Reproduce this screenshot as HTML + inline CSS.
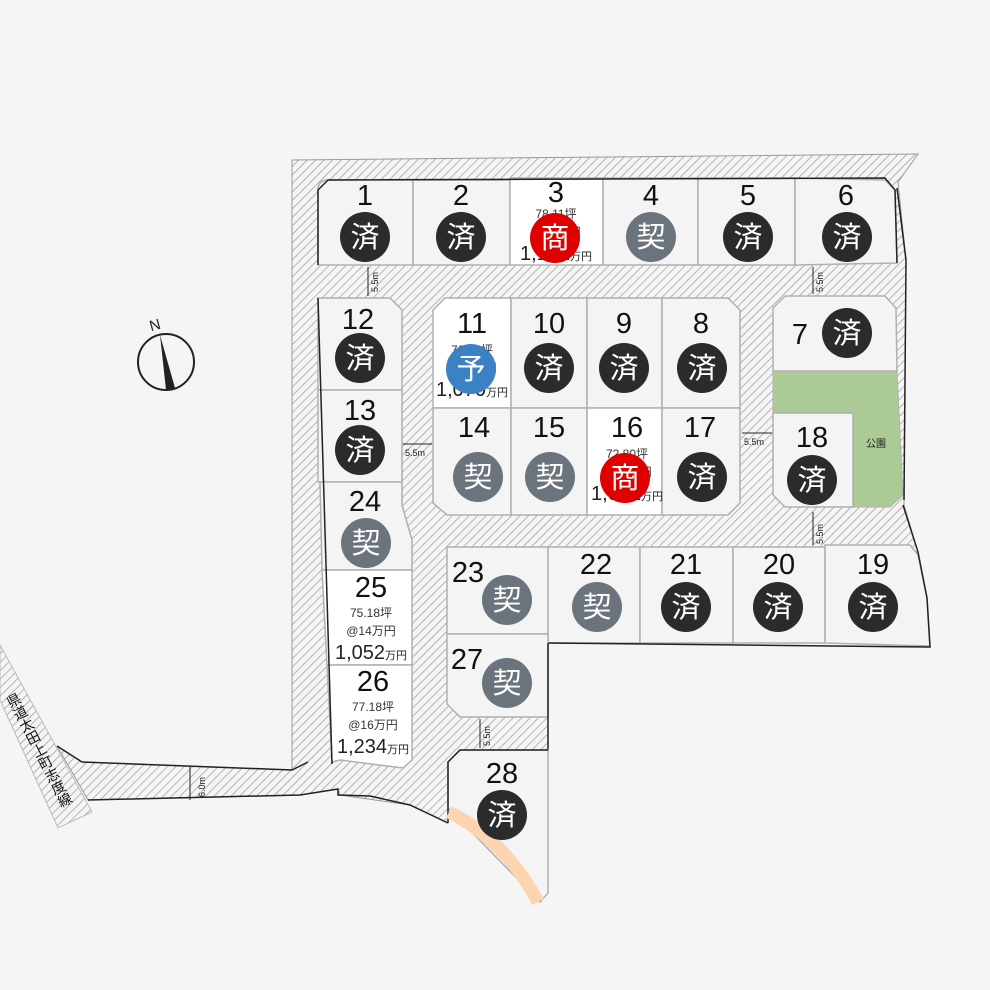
<!DOCTYPE html>
<html><head><meta charset="utf-8"><style>
html,body{margin:0;padding:0;background:#f5f5f5;}
svg{display:block;font-family:"Liberation Sans","Noto Sans CJK JP",sans-serif;}
.n{font-size:29px;fill:#111;text-anchor:middle;}
.s{font-size:12px;fill:#333;text-anchor:middle;}
.b{font-size:20px;fill:#222;text-anchor:middle;}
.m{font-size:29px;fill:#fff;text-anchor:middle;}
.lot{fill:#f4f4f4;stroke:#b0b0b0;stroke-width:1.5;}
.w{fill:#fff;stroke:#b0b0b0;stroke-width:1.5;}
.d{font-size:9px;fill:#222;}
</style></head><body>
<svg width="990" height="990" viewBox="0 0 990 990">
<defs>
<pattern id="h" width="6" height="6" patternUnits="userSpaceOnUse" patternTransform="rotate(45)">
<rect width="6" height="6" fill="#f5f5f5"/><line x1="0" y1="0" x2="0" y2="6" stroke="#999" stroke-width="1.4"/>
</pattern>
</defs>
<!-- state road -->
<polygon points="0,645 92,812 58,828 0,700" fill="url(#h)" stroke="#bbb" stroke-width="1"/>
<text transform="translate(10,708) rotate(63)" font-size="14" fill="#111" rotate="-90 -90 -90 -90 -90 -90 -90 -90 -90" dy="0">県道太田上町志度線</text>
<!-- main hatched -->
<polygon points="292,160 918,154 898,182 906,260 904,505 918,552 548,548 548,750 460,750 448,762 448,823 410,805 340,795 338,789 300,795 88,800 57,746 82,762 292,770" fill="url(#h)" stroke="#999" stroke-width="1"/>
<polyline points="57,746 82,762 292,770 308,762" fill="none" stroke="#222" stroke-width="1.5"/>
<polyline points="88,800 300,795 338,789 338,795 370,796 410,805 448,823" fill="none" stroke="#222" stroke-width="1.5"/>
<!-- top row -->
<path d="M318,190 Q318,180 328,180 L413,180 L413,265 L318,265Z" class="lot"/>
<rect x="413" y="180" width="97" height="85" class="lot"/>
<rect x="510" y="178" width="93" height="87" class="w"/>
<rect x="603" y="178" width="95" height="87" class="lot"/>
<rect x="698" y="178" width="97" height="87" class="lot"/>
<path d="M795,178 L885,180 L895,190 L897,263 L795,265Z" class="lot"/>
<polyline points="318,265 318,190 328,180 885,178 895,190 897,263" fill="none" stroke="#222" stroke-width="1.5"/>
<!-- left column -->
<path d="M318,298 L390,298 L402,310 L402,390 L318,390Z" class="lot"/>
<rect x="318" y="390" width="84" height="92" class="lot"/>
<path d="M320,482 L402,482 L402,505 L412,540 L412,570 L322,570Z" class="lot"/>
<path d="M322,570 L412,570 L412,665 L327,665Z" class="w"/>
<path d="M327,665 L412,665 L412,760 L403,768 L340,760 L332,762Z" class="w"/>
<line x1="318" y1="298" x2="332" y2="764" stroke="#222" stroke-width="1.5"/>
<!-- middle block -->
<path d="M445,298 L511,298 L511,408 L433,408 L433,310Z" class="w"/>
<rect x="511" y="298" width="76" height="110" class="lot"/>
<rect x="587" y="298" width="75" height="110" class="lot"/>
<path d="M662,298 L728,298 L740,310 L740,408 L662,408Z" class="lot"/>
<path d="M433,408 L511,408 L511,515 L447,515 L433,503Z" class="lot"/>
<rect x="511" y="408" width="76" height="107" class="lot"/>
<rect x="587" y="408" width="75" height="107" class="w"/>
<path d="M662,408 L740,408 L740,503 L728,515 L662,515Z" class="lot"/>
<!-- right -->
<path d="M785,296 L885,296 L896,308 L897,371 L773,371 L773,308Z" class="lot"/>
<path d="M773,371 L897,371 L903,495 L890,507 L853,507 L853,413 L773,413Z" fill="#abca95" stroke="#b0b0b0"/>
<path d="M773,413 L853,413 L853,507 L785,507 L773,495Z" class="lot"/>
<text x="876" y="447" font-size="10" fill="#222" text-anchor="middle">公園</text>
<polyline points="904,500 906,260 897,188" fill="none" stroke="#222" stroke-width="1.5"/>
<!-- row 3 -->
<path d="M447,547 L548,547 L548,634 L447,634Z" class="lot"/>
<rect x="548" y="547" width="92" height="96" class="lot"/>
<rect x="640" y="547" width="93" height="96" class="lot"/>
<rect x="733" y="547" width="92" height="96" class="lot"/>
<path d="M825,545 L910,545 L918,555 L927,598 L930,646 L825,643Z" class="lot"/>
<polyline points="903,505 918,552 927,598 930,647 548,643" fill="none" stroke="#222" stroke-width="1.5"/>
<path d="M447,634 L548,634 L548,717 L460,717 L447,704Z" class="lot"/>
<polyline points="548,643 548,750" stroke="#222" stroke-width="1.5" fill="none"/>
<!-- 28 -->
<path d="M460,750 L548,750 L548,893 L540,902 L448,808 L448,762Z" class="lot"/>
<polyline points="548,750 460,750 448,762 448,823" fill="none" stroke="#222" stroke-width="1.5"/>
<path d="M449,812 Q505,840 538,902" fill="none" stroke="#fcd5b0" stroke-width="13"/>
<!-- compass -->
<circle cx="166" cy="362" r="28" fill="none" stroke="#222" stroke-width="2"/>
<polygon points="160,335 175,388 166,390" fill="#222"/>
<text x="155" y="330" font-size="15" fill="#222" text-anchor="middle" transform="rotate(-15 155 325)">N</text>
<!-- dimension labels -->
<g stroke="#222" stroke-width="1">
<line x1="368" y1="267" x2="368" y2="296"/><line x1="813" y1="267" x2="813" y2="294"/>
<line x1="813" y1="512" x2="813" y2="545"/><line x1="480" y1="719" x2="480" y2="748"/>
<line x1="190" y1="767" x2="190" y2="800"/>
<line x1="403" y1="444" x2="432" y2="444"/><line x1="742" y1="433" x2="772" y2="433"/>
</g>
<text class="d" transform="translate(378,292) rotate(-90)">5.5m</text>
<text class="d" transform="translate(823,292) rotate(-90)">5.5m</text>
<text class="d" transform="translate(823,544) rotate(-90)">5.5m</text>
<text class="d" transform="translate(490,746) rotate(-90)">5.5m</text>
<text class="d" transform="translate(205,797) rotate(-90)">6.0m</text>
<text class="d" x="405" y="456">5.5m</text>
<text class="d" x="744" y="445">5.5m</text>
<!-- numbers -->
<text x="365" y="205" class="n">1</text><text x="461" y="205" class="n">2</text><text x="556" y="202" class="n">3</text>
<text x="651" y="205" class="n">4</text><text x="748" y="205" class="n">5</text><text x="846" y="205" class="n">6</text>
<text x="358" y="329" class="n">12</text><text x="360" y="420" class="n">13</text><text x="365" y="511" class="n">24</text>
<text x="371" y="597" class="n">25</text><text x="373" y="691" class="n">26</text>
<text x="472" y="333" class="n">11</text><text x="549" y="333" class="n">10</text><text x="624" y="333" class="n">9</text><text x="701" y="333" class="n">8</text>
<text x="474" y="437" class="n">14</text><text x="549" y="437" class="n">15</text><text x="627" y="437" class="n">16</text><text x="700" y="437" class="n">17</text>
<text x="800" y="344" class="n">7</text><text x="812" y="447" class="n">18</text>
<text x="468" y="582" class="n">23</text><text x="596" y="574" class="n">22</text><text x="686" y="574" class="n">21</text><text x="779" y="574" class="n">20</text><text x="873" y="574" class="n">19</text>
<text x="467" y="669" class="n">27</text><text x="502" y="783" class="n">28</text>
<!-- price texts -->
<text x="556" y="218" class="s">78.11坪</text><text x="556" y="236" class="s">@15万円</text><text x="556" y="260" class="b">1,172<tspan font-size="11">万円</tspan></text>
<text x="472" y="354" class="s">76.22坪</text><text x="472" y="372" class="s">@14万円</text><text x="472" y="396" class="b">1,070<tspan font-size="11">万円</tspan></text>
<text x="627" y="458" class="s">72.80坪</text><text x="627" y="476" class="s">@15万円</text><text x="627" y="500" class="b">1,092<tspan font-size="11">万円</tspan></text>
<text x="371" y="617" class="s">75.18坪</text><text x="371" y="635" class="s">@14万円</text><text x="371" y="659" class="b">1,052<tspan font-size="11">万円</tspan></text>
<text x="373" y="711" class="s">77.18坪</text><text x="373" y="729" class="s">@16万円</text><text x="373" y="753" class="b">1,234<tspan font-size="11">万円</tspan></text>
<!-- markers -->
<g>
<circle cx="365" cy="237" r="25" fill="#2b2b2b"/><text x="365" y="247" class="m">済</text>
<circle cx="461" cy="237" r="25" fill="#2b2b2b"/><text x="461" y="247" class="m">済</text>
<circle cx="555" cy="238" r="25" fill="#e00000"/><text x="555" y="248" class="m">商</text>
<circle cx="651" cy="237" r="25" fill="#6b747c"/><text x="651" y="247" class="m">契</text>
<circle cx="748" cy="237" r="25" fill="#2b2b2b"/><text x="748" y="247" class="m">済</text>
<circle cx="847" cy="237" r="25" fill="#2b2b2b"/><text x="847" y="247" class="m">済</text>
<circle cx="360" cy="358" r="25" fill="#2b2b2b"/><text x="360" y="368" class="m">済</text>
<circle cx="360" cy="450" r="25" fill="#2b2b2b"/><text x="360" y="460" class="m">済</text>
<circle cx="366" cy="543" r="25" fill="#6b747c"/><text x="366" y="553" class="m">契</text>
<circle cx="471" cy="369" r="25" fill="#3b82c4"/><text x="471" y="379" class="m">予</text>
<circle cx="549" cy="368" r="25" fill="#2b2b2b"/><text x="549" y="378" class="m">済</text>
<circle cx="624" cy="368" r="25" fill="#2b2b2b"/><text x="624" y="378" class="m">済</text>
<circle cx="702" cy="368" r="25" fill="#2b2b2b"/><text x="702" y="378" class="m">済</text>
<circle cx="478" cy="477" r="25" fill="#6b747c"/><text x="478" y="487" class="m">契</text>
<circle cx="550" cy="477" r="25" fill="#6b747c"/><text x="550" y="487" class="m">契</text>
<circle cx="625" cy="478" r="25" fill="#e00000"/><text x="625" y="488" class="m">商</text>
<circle cx="702" cy="477" r="25" fill="#2b2b2b"/><text x="702" y="487" class="m">済</text>
<circle cx="847" cy="333" r="25" fill="#2b2b2b"/><text x="847" y="343" class="m">済</text>
<circle cx="812" cy="480" r="25" fill="#2b2b2b"/><text x="812" y="490" class="m">済</text>
<circle cx="507" cy="600" r="25" fill="#6b747c"/><text x="507" y="610" class="m">契</text>
<circle cx="597" cy="607" r="25" fill="#6b747c"/><text x="597" y="617" class="m">契</text>
<circle cx="686" cy="607" r="25" fill="#2b2b2b"/><text x="686" y="617" class="m">済</text>
<circle cx="778" cy="607" r="25" fill="#2b2b2b"/><text x="778" y="617" class="m">済</text>
<circle cx="873" cy="607" r="25" fill="#2b2b2b"/><text x="873" y="617" class="m">済</text>
<circle cx="507" cy="683" r="25" fill="#6b747c"/><text x="507" y="693" class="m">契</text>
<circle cx="502" cy="815" r="25" fill="#2b2b2b"/><text x="502" y="825" class="m">済</text>
</g>
</svg>
</body></html>
